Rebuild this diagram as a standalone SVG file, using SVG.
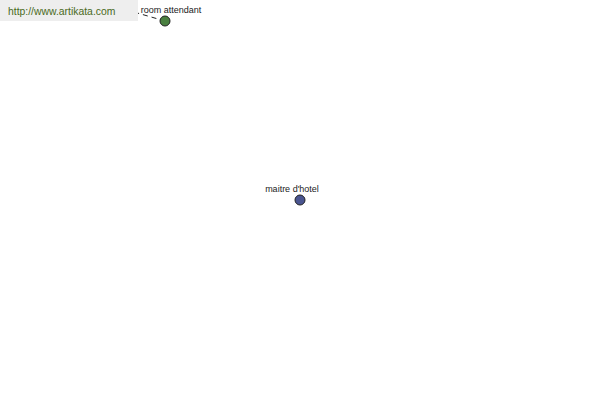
<svg xmlns="http://www.w3.org/2000/svg" width="600" height="400" viewBox="0 0 600 400">
<style>
.lbl{font-family:"Liberation Sans",Arial,sans-serif;font-size:9px;fill:#222;text-anchor:middle}
.node{stroke:#222;stroke-width:1}
</style>
<rect width="600" height="400" fill="#fff"/>
<g id="connectors">
<line x1="165" y1="21" x2="120" y2="8" stroke="#222" stroke-width="1" stroke-dasharray="5,4"/>
</g>
<g id="banner">
<rect x="0" y="0" width="138" height="21" fill="#eeeeee"/>
<text x="8" y="15" font-family="Liberation Sans,Arial,sans-serif" font-size="10.4" fill="#4a6a1c">http://www.artikata.com</text>
</g>
<g id="room-attendant">
<circle class="node" cx="165" cy="21" r="5" fill="#4a8040"/>
<text class="lbl" x="171" y="13">room attendant</text>
</g>
<g id="maitre-d-hotel">
<circle class="node" cx="300" cy="200" r="5" fill="#4a5590"/>
<text class="lbl" x="292" y="192">maitre d'hotel</text>
</g>
</svg>
